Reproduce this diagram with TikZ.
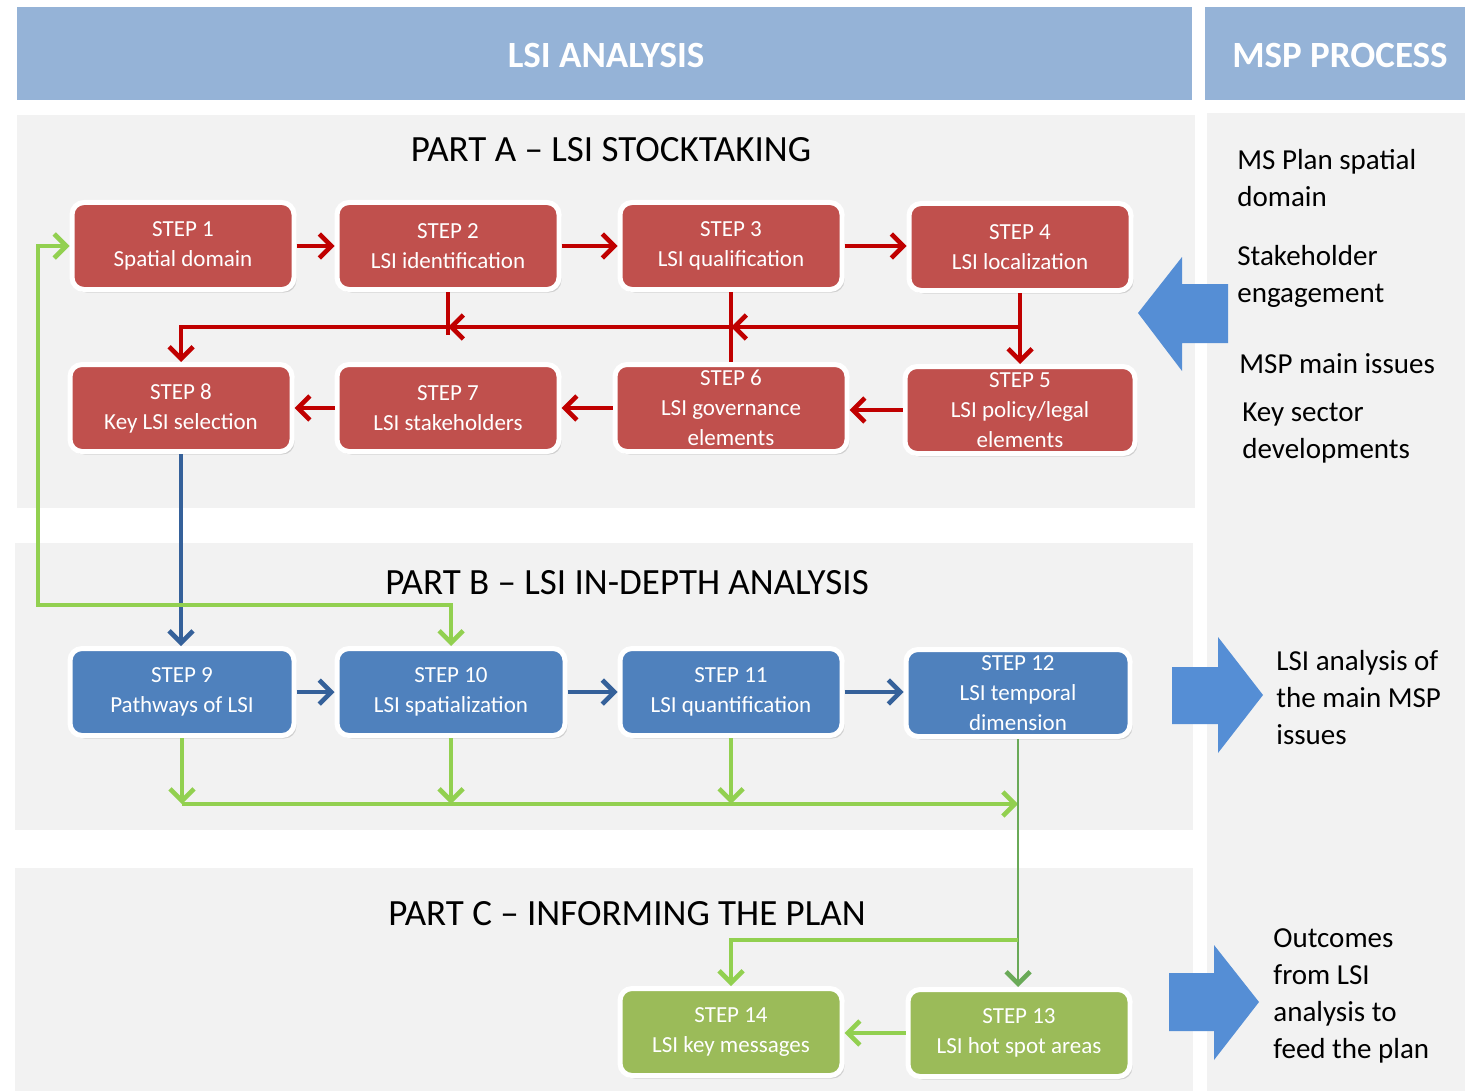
\documentclass[tikz,border=0pt]{standalone}
\usepackage{fontspec}
\setmainfont{Carlito}
\usetikzlibrary{arrows.meta,shadows}
\definecolor{hdr}{HTML}{95B3D7}
\definecolor{panel}{HTML}{F2F2F2}
\definecolor{boxred}{HTML}{C0504D}
\definecolor{boxblue}{HTML}{4F81BD}
\definecolor{boxgreen}{HTML}{9BBB59}
\definecolor{arrred}{HTML}{C00000}
\definecolor{arrblue}{HTML}{35619A}
\definecolor{arrgreen}{HTML}{92D050}
\definecolor{thingreen}{HTML}{6AAA58}
\definecolor{bigarrow}{HTML}{558ED5}
\begin{document}
\begin{tikzpicture}[x=0.5pt,y=-0.5pt,
  box/.style={draw=white,line width=2.5pt,rounded corners=6pt,minimum width=111pt,
    minimum height=43.5pt,inner sep=0pt,align=center,text=white,
    font=\fontsize{11.5}{15}\selectfont,
    drop shadow={shadow xshift=1.2pt,shadow yshift=-1.5pt,opacity=0.3}},
  redbox/.style={box,fill=boxred},
  bluebox/.style={box,fill=boxblue},
  greenbox/.style={box,fill=boxgreen},
  tip/.style={-{Straight Barb[length=6pt,width=12pt]}},
  rline/.style={draw=arrred,line width=2.3pt},
  rarr/.style={rline,tip},
  barr/.style={draw=arrblue,line width=2.3pt,tip},
  gline/.style={draw=arrgreen,line width=2.3pt},
  garr/.style={gline,tip},
  tgarr/.style={draw=thingreen,line width=1pt,-{Straight Barb[length=6pt,width=12pt,line width=2.3pt]}},
  hdrtext/.style={text=white,font=\bfseries\fontsize{18.5}{20}\selectfont},
  title/.style={font=\fontsize{18.5}{20}\selectfont},
  side/.style={anchor=west,inner sep=0pt,align=left,font=\fontsize{14.5}{18.5}\selectfont},
  big/.style={fill=bigarrow,draw=none}
]
\useasboundingbox (0,0) rectangle (1465,1091);
\fill[white] (0,0) rectangle (1465,1091);
% headers
\fill[hdr] (17,7) rectangle (1192,100);
\fill[hdr] (1205,7) rectangle (1465,100);
\node[hdrtext] (hA) at (606,55) {LSI ANALYSIS};
\node[hdrtext] (hB) at (1340,55) {MSP PROCESS};
% panels
\fill[panel] (17,115) rectangle (1195,508);
\fill[panel] (15,543) rectangle (1193,830);
\fill[panel] (15,868) rectangle (1193,1091);
\fill[panel] (1207,113) rectangle (1465,1091);
% titles
\node[title] (tA) at (611,150) {PART A – LSI STOCKTAKING};
\node[title] (tB) at (627,583) {PART B – LSI IN-DEPTH ANALYSIS};
\node[title] (tC) at (627,914) {PART C – INFORMING THE PLAN};
% big arrows
\fill[big] (1138,313) -- (1182,257) -- (1182,284) -- (1228,284) -- (1228,343) -- (1182,343) -- (1182,371) -- cycle;
\fill[big] (1172,667) -- (1218,667) -- (1218,637) -- (1263,695) -- (1218,753) -- (1218,724) -- (1172,724) -- cycle;
\fill[big] (1169,973) -- (1214,973) -- (1214,945) -- (1259,1002) -- (1214,1060) -- (1214,1031) -- (1169,1031) -- cycle;
% side texts
\node[side] (m1) at (1237,178) {MS Plan spatial\\domain};
\node[side] (m2) at (1237,276) {Stakeholder\\engagement};
\node[side] (m3) at (1239,364) {MSP main issues};
\node[side] (m4) at (1242,433) {Key sector\\developments};
\node[side] (m5) at (1276,698) {LSI analysis of\\the main MSP\\issues};
\node[side] (m6) at (1273,996) {Outcomes\\from LSI\\analysis to\\feed the plan};
% boxes
\node[redbox] (s1) at (183,246) {STEP 1\\Spatial domain};
\node[redbox] (s2) at (448,246) {STEP 2\\LSI identification};
\node[redbox] (s3) at (731,246) {STEP 3\\LSI qualification};
\node[redbox] (s4) at (1020,247) {STEP 4\\LSI localization};
\node[redbox] (s8) at (181,408) {STEP 8\\Key LSI selection};
\node[redbox] (s7) at (448,408) {STEP 7\\LSI stakeholders};
\node[redbox,minimum width=116pt] (s6) at (731,408) {STEP 6\\LSI governance\\elements};
\node[redbox,minimum width=115pt] (s5) at (1020,410) {STEP 5\\LSI policy/legal\\elements};
\node[bluebox,minimum width=112pt] (s9) at (182,692) {STEP 9\\Pathways of LSI};
\node[bluebox,minimum width=114pt] (s10) at (451,692) {STEP 10\\LSI spatialization};
\node[bluebox] (s11) at (731,692) {STEP 11\\LSI quantification};
\node[bluebox,minimum width=112pt] (s12) at (1018,693) {STEP 12\\LSI temporal\\dimension};
\node[greenbox] (s14) at (731,1032) {STEP 14\\LSI key messages};
\node[greenbox] (s13) at (1019,1033) {STEP 13\\LSI hot spot areas};
% helper coordinates
\coordinate (hr) at (0,327);
\coordinate (hr2) at (0,335);
\coordinate (lp) at (38,605);
\coordinate (gb) at (0,804);
\coordinate (gc) at (0,940);
% red connectors
\draw[rarr] (s1.east) -- (s1.east -| s2.west);
\draw[rarr] (s2.east) -- (s2.east -| s3.west);
\draw[rarr] (s3.east) -- (s3.east -| s4.west);
\draw[rline] (s2.south) -- (s2.south |- hr2);
\draw[rline] (s3.south) -- (s3.south |- s6.north);
\draw[rarr] (s4.south) -- (s4.south |- s5.north);
\draw[rarr] (s4.south |- hr) -- (s3.south |- hr);
\draw[rarr] (s3.south |- hr) -- (s2.south |- hr);
\draw[rarr] (s2.south |- hr) -| (s8.north);
\draw[rarr] (s5.west) -- (s5.west -| s6.east);
\draw[rarr] (s6.west) -- (s6.west -| s7.east);
\draw[rarr] (s7.west) -- (s7.west -| s8.east);
% blue connectors
\draw[barr] (s8.south) -- (s8.south |- s9.north);
\draw[barr] (s9.east) -- (s9.east -| s10.west);
\draw[barr] (s10.east) -- (s10.east -| s11.west);
\draw[barr] (s11.east) -- (s11.east -| s12.west);
% green connectors
\draw[gline,{Straight Barb[length=6pt,width=12pt]}-{Straight Barb[length=6pt,width=12pt]}] (s1.west) -| (lp) -| (s10.north);
\draw[garr] (s9.south) -- (s9.south |- gb);
\draw[garr] (s10.south) -- (s10.south |- gb);
\draw[garr] (s11.south) -- (s11.south |- gb);
\draw[garr] (s9.south |- gb) -- (s12.south |- gb);
\draw[tgarr] (s12.south) -- (s12.south |- s13.north);
\draw[garr] (s12.south |- gc) -| (s14.north);
\draw[garr] (s13.west) -- (s13.west -| s14.east);
\end{tikzpicture}
\end{document}
